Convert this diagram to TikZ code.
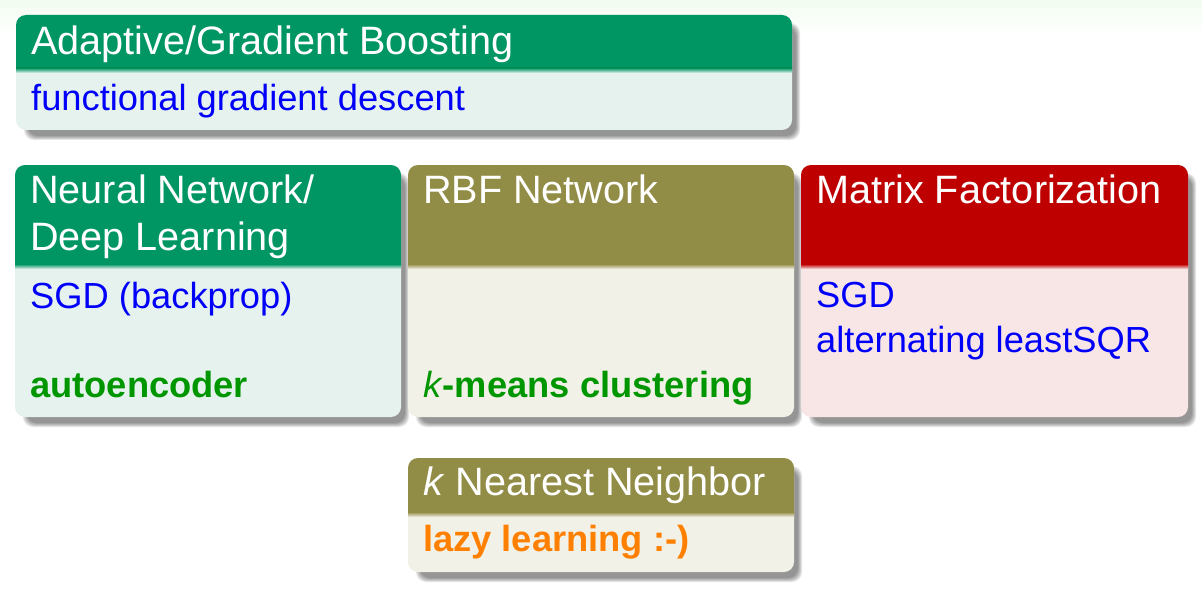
\documentclass[tikz,border=0pt]{standalone}
\usepackage{fontspec}
\setmainfont{Liberation Sans}
\usepackage{tikz}
\definecolor{greenhead}{RGB}{0,150,100}
\definecolor{greenbody}{RGB}{229,242,238}
\definecolor{olivehead}{RGB}{146,141,70}
\definecolor{olivebody}{RGB}{242,241,231}
\definecolor{redhead}{RGB}{190,0,0}
\definecolor{redbody}{RGB}{248,229,229}
\definecolor{bluetext}{RGB}{0,0,250}
\definecolor{greentext}{RGB}{0,150,0}
\definecolor{orangetext}{RGB}{255,128,0}
\definecolor{topband}{RGB}{242,252,240}
\tikzstyle{blocktitle}=[anchor=base west,inner sep=0pt,text=white,font=\fontsize{39.6}{47}\selectfont]
\tikzstyle{blocktext}=[anchor=base west,inner sep=0pt,font=\fontsize{36.3}{44.5}\selectfont]
% x1, y1, x2, y of header bottom, y2, header colour, body colour
\newcommand{\drawblock}[7]{%
  \foreach \e in {0,...,4}
    \fill[black,opacity=0.1,rounded corners=10pt] ({#1+12-\e},{#2+12-\e}) rectangle ({#3+4+\e},{#5+6+\e});
  \fill[#7,rounded corners=10pt] (#1,#2) rectangle (#3,#5);
  \begin{scope}
    \clip (#1,#2) rectangle (#3,#4);
    \fill[#6,rounded corners=10pt] (#1,#2) rectangle (#3,#5);
  \end{scope}
  \shade[top color=#6,bottom color=#7] (#1,#4) rectangle (#3,{#4+5});
}
\begin{document}
\begin{tikzpicture}[x=1pt,y=-1pt]
  \useasboundingbox (0,0) rectangle (1202,599);
  \shade[top color=topband,bottom color=white] (0,0) rectangle (1202,34);
  % blocks
  \drawblock{16}{15}{792}{68}{130}{greenhead}{greenbody}
  \drawblock{15}{165}{401}{264}{417}{greenhead}{greenbody}
  \drawblock{408}{165}{794}{264}{417}{olivehead}{olivebody}
  \drawblock{801}{165}{1188}{264}{417}{redhead}{redbody}
  \drawblock{408}{458}{794}{512}{572}{olivehead}{olivebody}
  % titles
  \node[blocktitle] (boosttitle) at (31,55) {Adaptive/Gradient Boosting};
  \node[blocktitle] (nntitle) at (30,203) {Neural Network/};
  \node[blocktitle] (nntitletwo) at (30,250) {Deep Learning};
  \node[blocktitle] (rbftitle) at (423,203) {RBF Network};
  \node[blocktitle] (mftitle) at (816,203) {Matrix Factorization};
  \node[blocktitle] (knntitle) at (423,495) {\textit{k} Nearest Neighbor};
  % contents
  \node[blocktext,text=bluetext] (boosttext) at (31,111) {functional gradient descent};
  \node[blocktext,text=bluetext] (nntext) at (30,308) {SGD (backprop)};
  \node[blocktext,text=greentext] (nnextra) at (30,397) {\bfseries autoencoder};
  \node[blocktext,text=greentext] (rbftext) at (423,397) {\textit{k}\bfseries -means clustering};
  \node[blocktext,text=bluetext] (mftext) at (816,307) {SGD};
  \node[blocktext,text=bluetext] (mftexttwo) at (816,352) {alternating leastSQR};
  \node[blocktext,text=orangetext] (knntext) at (423,551) {\bfseries lazy learning :-)};
\end{tikzpicture}
\end{document}
